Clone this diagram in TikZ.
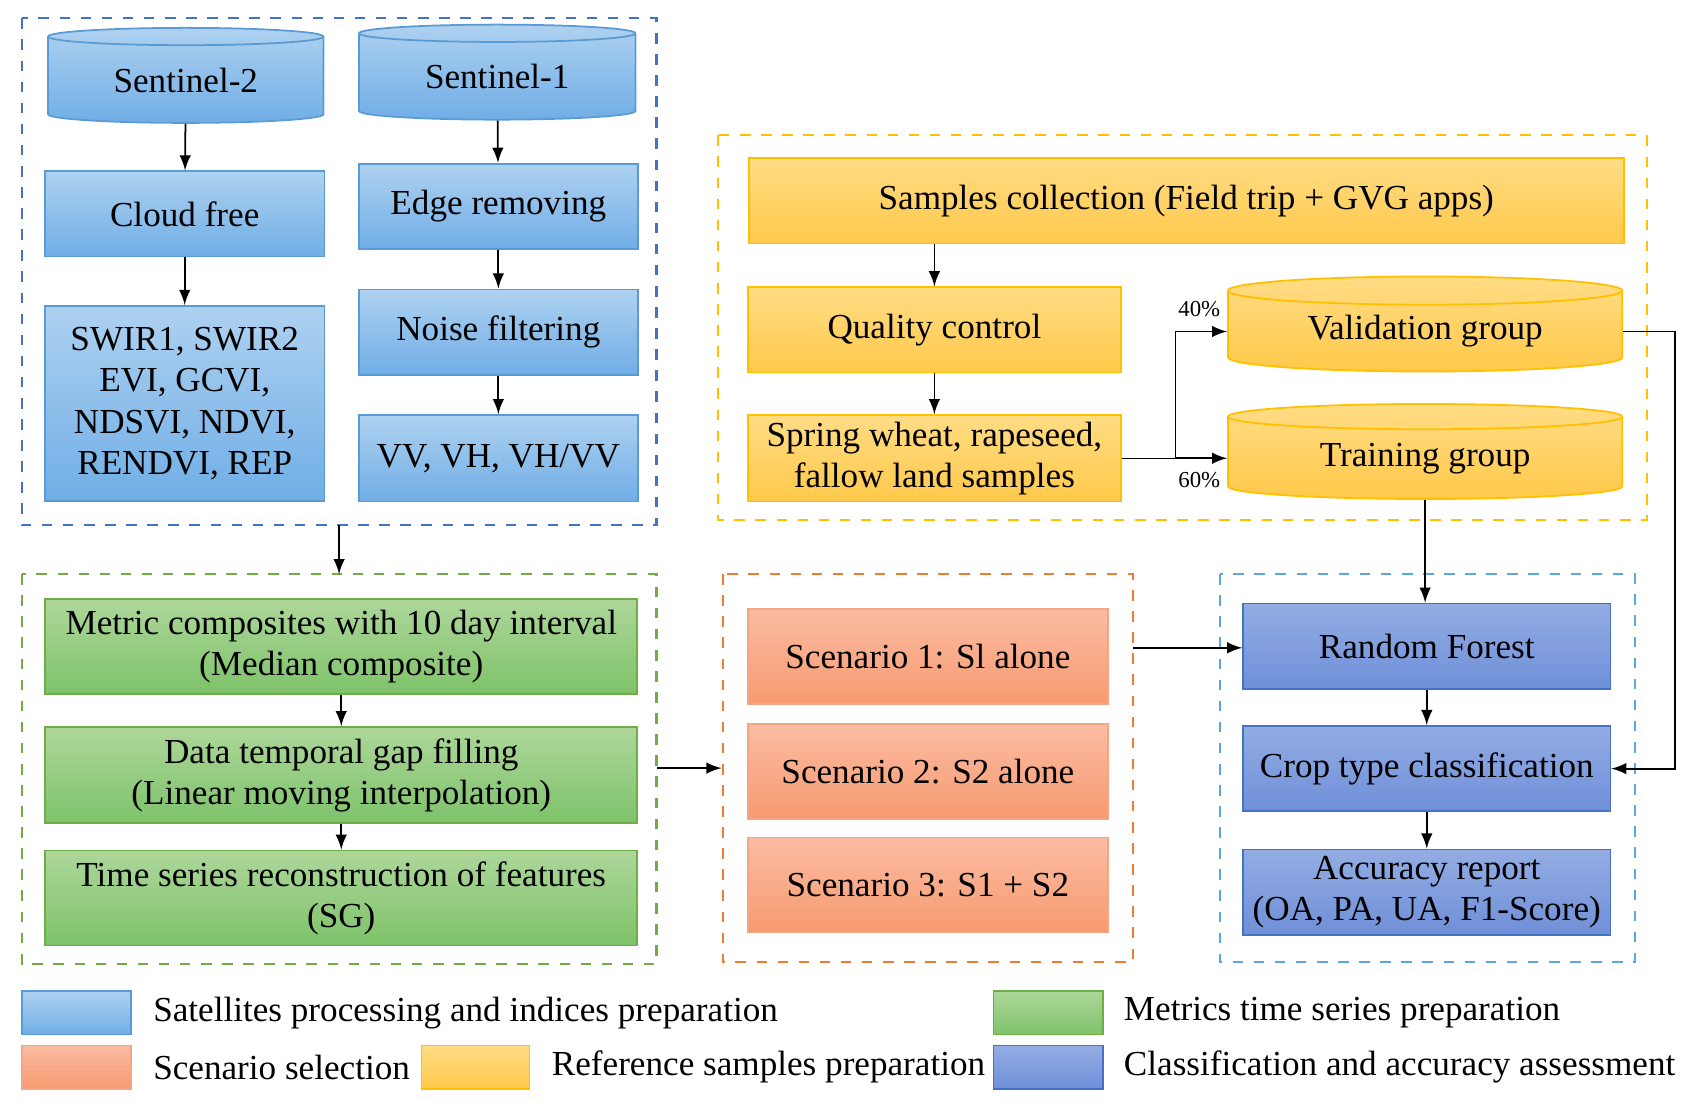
\documentclass[tikz,border=0pt]{standalone}
\usepackage{fontspec}
\setmainfont{Liberation Serif}
\usetikzlibrary{shapes.geometric}
\definecolor{bluetop}{HTML}{AED1F0}
\definecolor{bluebot}{HTML}{70AEE6}
\definecolor{blueline}{HTML}{5B9BD5}
\definecolor{greentop}{HTML}{ADD79A}
\definecolor{greenbot}{HTML}{7EC26A}
\definecolor{greenline}{HTML}{70AD47}
\definecolor{orangetop}{HTML}{FBBCA2}
\definecolor{orangebot}{HTML}{F79A70}
\definecolor{orangeline}{HTML}{F4A582}
\definecolor{yellowtop}{HTML}{FFDC85}
\definecolor{yellowbot}{HTML}{FFC94A}
\definecolor{yellowline}{HTML}{FFC000}
\definecolor{purptop}{HTML}{93ADE3}
\definecolor{purpbot}{HTML}{6F8FD8}
\definecolor{purpline}{HTML}{4472C4}
\definecolor{frameblue}{HTML}{4472C4}
\definecolor{framegreen}{HTML}{70AD47}
\definecolor{frameorange}{HTML}{ED7D31}
\definecolor{frameyellow}{HTML}{FFC000}
\definecolor{framecyan}{HTML}{5BA7E0}

\begin{document}
\begin{tikzpicture}[x=0.01083cm, y=-0.01083cm,
	font=\fontsize{10}{11.7}\selectfont,
	sz/.style 2 args={minimum width=#1*0.3073pt, minimum height=#2*0.3073pt},
	box/.style={rectangle, draw, line width=0.5pt, align=center, inner sep=0pt},
	sat/.style={box, draw=blueline, top color=bluetop, bottom color=bluebot},
	met/.style={box, draw=greenline, top color=greentop, bottom color=greenbot},
	scn/.style={box, draw=orangeline, top color=orangetop, bottom color=orangebot},
	ref/.style={box, draw=yellowline, top color=yellowtop, bottom color=yellowbot},
	cls/.style={box, draw=purpline, top color=purptop, bottom color=purpbot},
	db/.style={cylinder, shape border rotate=90, aspect=0.12, draw, line width=0.5pt, inner sep=0pt},
	frame/.style={dashed, line width=0.6pt},
	arr/.style={-latex, line width=0.5pt},
	]
	\useasboundingbox (0,0) rectangle (1560,1015.6);
		%Frames
    \draw[frame, frameblue]   (20,17)   rectangle (606,485);
    \draw[frame, framegreen]  (20,530)  rectangle (606,890);
    \draw[frame, frameorange] (667,530) rectangle (1046,888);
    \draw[frame, frameyellow] (663,125) rectangle (1520,480);
    \draw[frame, framecyan]   (1126,530) rectangle (1509,888);
    \coordinate (blueS)   at (313,485);
    \coordinate (greenN)  at (313,530);
    \coordinate (greenE)  at (606,709);
    \coordinate (orangeW) at (666,709);
    \coordinate (orangeE) at (1046,598);

		%Satellites
    \node[db, draw=blueline, top color=bluetop, bottom color=bluebot, sz={255}{88}] (S2) at (171.5,74) {Sentinel-2};
    \node[db, draw=blueline, top color=bluetop, bottom color=bluebot, sz={256}{88}] (S1) at (459,71) {Sentinel-1};
    \node[sat, sz={259}{79}]  (cloud) at (170.5,197.5) {Cloud free};
    \node[sat, sz={259}{181}] (ind)   at (170.5,372.5) {SWIR1, SWIR2\\EVI, GCVI,\\NDSVI, NDVI,\\RENDVI, REP};
    \node[sat, sz={258}{79}]  (edge)  at (460,190.5) {Edge removing};
    \node[sat, sz={258}{79}]  (noise) at (460,306.5) {Noise filtering};
    \node[sat, sz={258}{80}]  (vv)    at (460,423)   {VV, VH, VH/VV};

		%Metrics
    \node[met, sz={548}{88}] (comp) at (315,597)   {Metric composites with 10 day interval\\(Median composite)};
    \node[met, sz={548}{89}] (gap)  at (315,715.5) {Data temporal gap filling\\(Linear moving interpolation)};
    \node[met, sz={548}{88}] (ts)   at (315,829)   {Time series reconstruction of features\\(SG)};

		%Scenarios
    \node[scn, sz={333}{88}] (sc1) at (856.5,606) {Scenario 1: Sl alone};
    \node[scn, sz={333}{88}] (sc2) at (856.5,712) {Scenario 2: S2 alone};
    \node[scn, sz={333}{88}] (sc3) at (856.5,817) {Scenario 3: S1 + S2};

		%Reference samples
    \node[ref, sz={810}{79}] (samp) at (1095,185.5) {Samples collection (Field trip + GVG apps)};
    \node[ref, sz={345}{79}] (qc)   at (862.5,304.5) {Quality control};
    \node[ref, sz={345}{80}] (crop) at (862.5,423)   {Spring wheat, rapeseed,\\fallow land samples};
    \node[db, draw=yellowline, top color=yellowtop, bottom color=yellowbot, sz={365}{88}] (val) at (1315.5,306) {Validation group};
    \node[db, draw=yellowline, top color=yellowtop, bottom color=yellowbot, sz={365}{88}] (tra) at (1315.5,423) {Training group};
    \coordinate (split) at (1085,423);

		%Classification
    \node[cls, sz={340}{79}] (rf)  at (1317,596.5) {Random Forest};
    \node[cls, sz={340}{79}] (ctc) at (1317,709.5) {Crop type classification};
    \node[cls, sz={340}{79}] (acc) at (1317,823.5) {Accuracy report\\(OA, PA, UA, F1-Score)};

		%Lines
		\draw[arr] (S2) to (cloud);
		\draw[arr] (cloud) to (ind);
		\draw[arr] (S1) to (edge);
		\draw[arr] (edge) to (noise);
		\draw[arr] (noise) to (vv);
		\draw[arr] (blueS) to (greenN);
		\draw[arr] (comp) to (gap);
		\draw[arr] (gap) to (ts);
		\draw[arr] (greenE) to (orangeW);
		\draw[arr] (orangeE) to (rf.west |- orangeE);
		\draw[arr] (samp.south -| qc) to (qc);
		\draw[arr] (qc) to (crop);
		\draw (crop) to (split);
		\draw[arr] (split) |- (val.west);
		\draw[arr] (split) to (tra.west |- split);
		\draw[arr] (tra.south) to (rf.north -| tra.south);
		\draw[arr] (val.east) -- ++(48,0) |- (ctc.east);
		\draw[arr] (rf) to (ctc);
		\draw[arr] (ctc) to (acc);
    \node[font=\fontsize{6.5}{7}\selectfont] (p40) at (1107,285) {40\%};
    \node[font=\fontsize{6.5}{7}\selectfont] (p60) at (1107,443) {60\%};

		%Legend
    \node[sat, sz={101}{40}] (lg1) at (70.5,935)  {};
    \node[scn, sz={101}{40}] (lg2) at (70.5,985)  {};
    \node[ref, sz={100}{40}] (lg3) at (439,985)   {};
    \node[met, sz={101}{40}] (lg4) at (967.5,935) {};
    \node[cls, sz={101}{40}] (lg5) at (967.5,985) {};
    \node[anchor=west] (tx1) at (130,935)  {Satellites processing and indices preparation};
    \node[anchor=west] (tx2) at (130,985)  {Scenario selection};
    \node[anchor=west] (tx3) at (498,985)  {Reference samples preparation};
    \node[anchor=west] (tx4) at (1026,935) {Metrics time series preparation};
    \node[anchor=west] (tx5) at (1026,985) {Classification and accuracy assessment};
\end{tikzpicture}
\end{document}
